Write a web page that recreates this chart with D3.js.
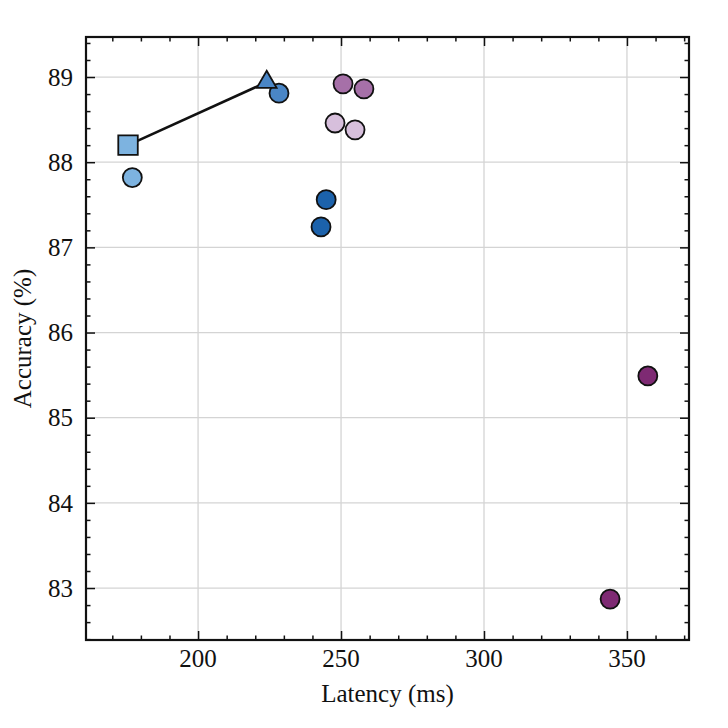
<!DOCTYPE html>
<html lang="en">
<head>
<meta charset="UTF-8">
<title>Latency vs Accuracy</title>
<script src="https://cdn.jsdelivr.net/npm/d3@7"></script>
<style>
  body { margin: 0; background: #fff; }
  svg { display: block; }
  text { font-family: "Liberation Serif", "DejaVu Serif", serif; fill: #111; }
</style>
</head>
<body>
<svg id="chart" width="728" height="728"></svg>
<script>
// points
const latency  = [177.0, 228.3, 244.8, 243.0, 250.7, 258.0, 247.9, 254.9, 357.3, 344.1];
const accuracy = [87.82, 88.81, 87.56, 87.24, 88.92, 88.86, 88.46, 88.38, 85.49, 82.87];
const fills    = ["#7db3e0", "#4a86c6", "#1c62ab", "#1c62ab", "#a670a8", "#a670a8",
                  "#d7bfdc", "#d7bfdc", "#7e2a73", "#7e2a73"];

// the connected pair: square -> triangle
const pathLatency  = [175.5, 224.0];
const pathAccuracy = [88.20, 88.94];
const pathShapes   = ["square", "triangle"];
const pathFills    = ["#7db3e0", "#4a86c6"];

const xTicks = [200, 250, 300, 350];
const yTicks = [83, 84, 85, 86, 87, 88, 89];

const margin = {top: 37, right: 39, bottom: 88, left: 86};
const W = 728, H = 728;
const iw = W - margin.left - margin.right;
const ih = H - margin.top - margin.bottom;

const svg = d3.select("#chart");
const g = svg.append("g").attr("transform", `translate(${margin.left},${margin.top})`);

const x = d3.scaleLinear().domain([160.8, 371.7]).range([0, iw]);
const y = d3.scaleLinear().domain([82.39, 89.47]).range([ih, 0]);

// grid
g.append("g").selectAll("line").data(xTicks).join("line")
  .attr("x1", d => x(d)).attr("x2", d => x(d)).attr("y1", 0).attr("y2", ih)
  .attr("stroke", "#d4d4d4").attr("stroke-width", 1.3);
g.append("g").selectAll("line").data(yTicks).join("line")
  .attr("y1", d => y(d)).attr("y2", d => y(d)).attr("x1", 0).attr("x2", iw)
  .attr("stroke", "#d4d4d4").attr("stroke-width", 1.3);

// ticks on all four sides, pointing inward
const xMinor = d3.range(170, 371, 10).filter(v => !xTicks.includes(v));
const yMinor = d3.range(82.4, 89.47, 0.2).map(v => +v.toFixed(1)).filter(v => !yTicks.includes(v));

function tickAxis(axisFn, scale, vals, size, tr) {
  const a = g.append("g").attr("transform", tr)
    .call(axisFn(scale).tickValues(vals).tickSize(-size).tickFormat(""));
  a.select(".domain").remove();
  a.selectAll("line").attr("stroke", "#111").attr("stroke-width", 1.5);
}
tickAxis(d3.axisBottom, x, xTicks, 9, `translate(0,${ih})`);
tickAxis(d3.axisBottom, x, xMinor, 4.5, `translate(0,${ih})`);
tickAxis(d3.axisTop, x, xTicks, 9, "translate(0,0)");
tickAxis(d3.axisTop, x, xMinor, 4.5, "translate(0,0)");
tickAxis(d3.axisLeft, y, yTicks, 9, "translate(0,0)");
tickAxis(d3.axisLeft, y, yMinor, 4.5, "translate(0,0)");
tickAxis(d3.axisRight, y, yTicks, 9, `translate(${iw},0)`);
tickAxis(d3.axisRight, y, yMinor, 4.5, `translate(${iw},0)`);

// tick labels
g.append("g").selectAll("text").data(xTicks).join("text")
  .attr("x", d => x(d)).attr("y", ih + 27)
  .attr("text-anchor", "middle").attr("font-size", 25).text(d => d);
g.append("g").selectAll("text").data(yTicks).join("text")
  .attr("x", -13).attr("y", d => y(d)).attr("dy", "0.35em")
  .attr("text-anchor", "end").attr("font-size", 25).text(d => d);

// frame
g.append("rect").attr("width", iw).attr("height", ih)
  .attr("fill", "none").attr("stroke", "#111").attr("stroke-width", 2.2);

// axis titles
svg.append("text").attr("x", margin.left + iw / 2).attr("y", 702)
  .attr("text-anchor", "middle").attr("font-size", 25).text("Latency (ms)");
svg.append("text").attr("transform", `translate(31,${margin.top + ih / 2}) rotate(-90)`)
  .attr("text-anchor", "middle").attr("font-size", 25).text("Accuracy (%)");

// connecting line
const line = d3.line().x(d => x(d[0])).y(d => y(d[1]));
g.append("path")
  .datum(pathLatency.map((v, i) => [v, pathAccuracy[i]]))
  .attr("d", line).attr("fill", "none")
  .attr("stroke", "#111").attr("stroke-width", 2.6);

// circles
g.append("g").selectAll("circle").data(latency).join("circle")
  .attr("cx", d => x(d)).attr("cy", (d, i) => y(accuracy[i]))
  .attr("r", 9.5)
  .attr("fill", (d, i) => fills[i])
  .attr("stroke", "#111").attr("stroke-width", 1.8);

// square and triangle
const sym = {square: d3.symbolSquare, triangle: d3.symbolTriangle};
const symSize = {square: 380, triangle: 170};
g.append("g").selectAll("path").data(pathLatency).join("path")
  .attr("transform", (d, i) => `translate(${x(d)},${y(pathAccuracy[i])})`)
  .attr("d", (d, i) => d3.symbol(sym[pathShapes[i]], symSize[pathShapes[i]])())
  .attr("fill", (d, i) => pathFills[i])
  .attr("stroke", "#111").attr("stroke-width", 1.8);
</script>
</body>
</html>
